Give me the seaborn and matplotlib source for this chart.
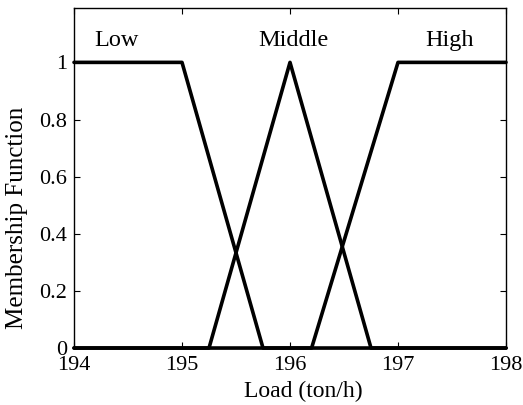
import seaborn as sns
import matplotlib.pyplot as plt
import pandas as pd

# membership function breakpoints (Load in ton/h)
low_x = [194, 195, 195.75, 198]
low_y = [1, 1, 0, 0]
mid_x = [194, 195.25, 196, 196.75, 198]
mid_y = [0, 0, 1, 0, 0]
high_x = [194, 196.2, 197, 198]
high_y = [0, 0, 1, 1]

names = ['Low', 'Middle', 'High']
label_x = [194.39, 196.03, 197.48]
xticks = [194, 195, 196, 197, 198]
yticks = [0, 0.2, 0.4, 0.6, 0.8, 1]
yticklabels = ['0', '0.2', '0.4', '0.6', '0.8', '1']

sns.set_theme(style="ticks")
plt.rcParams['font.family'] = ['Liberation Serif', 'DejaVu Serif']
plt.rcParams['xtick.direction'] = 'in'
plt.rcParams['ytick.direction'] = 'in'

df = pd.concat([
    pd.DataFrame({'x': low_x, 'y': low_y, 'mf': 'Low'}),
    pd.DataFrame({'x': mid_x, 'y': mid_y, 'mf': 'Middle'}),
    pd.DataFrame({'x': high_x, 'y': high_y, 'mf': 'High'}),
])

fig = plt.figure(figsize=(5.23, 4.05), dpi=100)
ax = fig.add_axes([0.1415, 0.1407, 0.826, 0.8393])

sns.lineplot(data=df, x='x', y='y', hue='mf', estimator=None, sort=False,
             palette=['black'] * 3, linewidth=2.6, legend=False, ax=ax, clip_on=False)

for name, lx in zip(names, label_x):
    ax.text(lx, 1.077, name, ha='center', va='center', fontsize=17.5, color='black')

ax.set_xlim(194, 198)
ax.set_ylim(0, 1.19)
ax.set_xticks(xticks)
ax.set_yticks(yticks)
ax.set_yticklabels(yticklabels)
ax.tick_params(labelsize=16, length=4, width=0.8, top=True, right=True, colors='black')
ax.tick_params(axis='x', pad=6)
ax.tick_params(axis='y', pad=5)
for s in ax.spines.values():
    s.set_visible(True)
    s.set_linewidth(1.0)
    s.set_color('black')
ax.set_xlabel('Load (ton/h)', fontsize=17, va='center', color='black')
ax.set_ylabel('Membership Function', fontsize=18, va='center', color='black')
ax.xaxis.set_label_coords(0.530, -0.129)
ax.yaxis.set_label_coords(-0.131, 0.382)

plt.savefig('out.png', dpi=100)
